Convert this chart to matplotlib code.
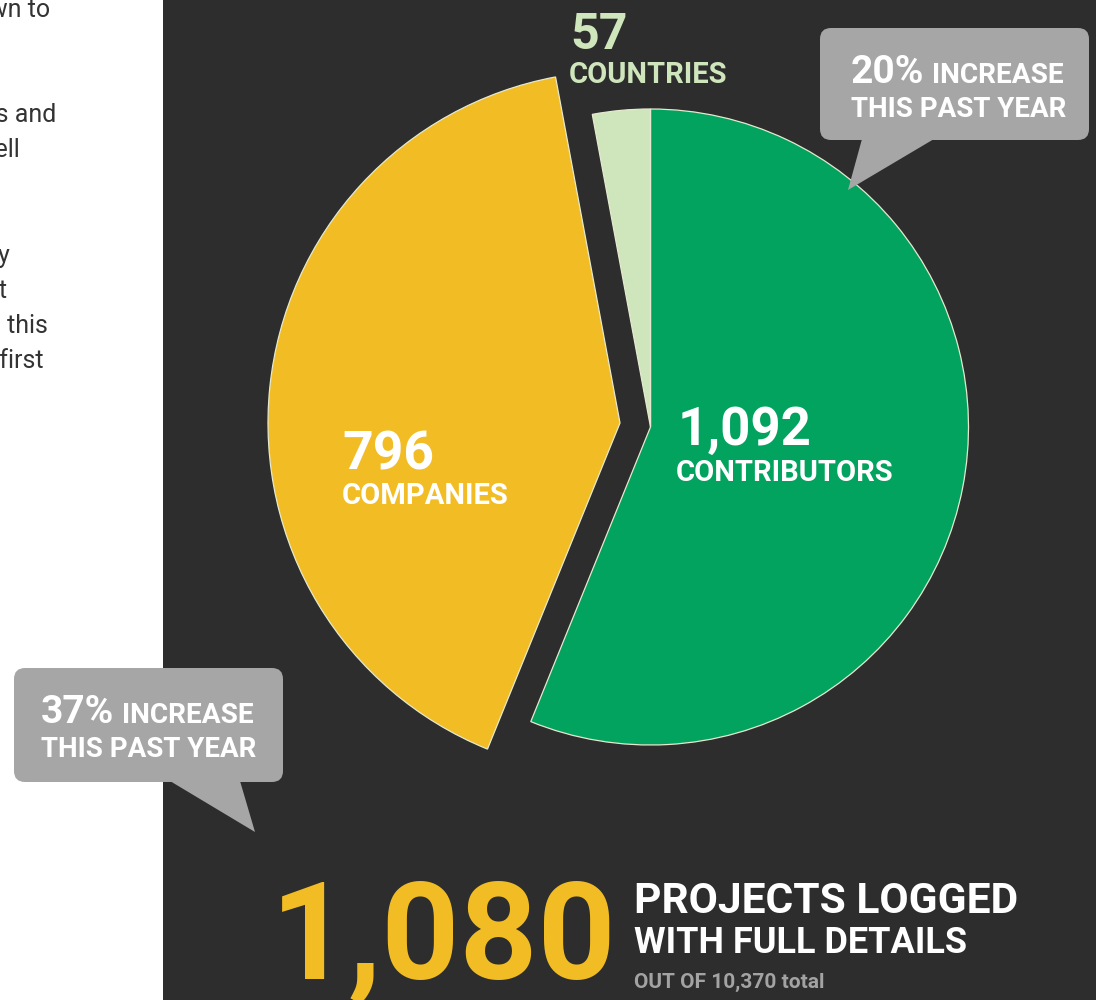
import matplotlib
matplotlib.use("Agg")
import matplotlib.pyplot as plt
from matplotlib.patches import FancyBboxPatch, Polygon, Rectangle

# --- data ---
slice_labels = ["CONTRIBUTORS", "COMPANIES", "COUNTRIES"]
slice_values = [1092, 796, 57]
slice_colors = ["#02a35e", "#f2bd24", "#cfe6bc"]
increase_pct = [20, 37]          # contributors, companies
projects_logged = 1080
projects_total = 10370

# cut-off body text on the white strip at the left
side_text = ["shown to", "tools and", "as well", "ly", "st", "in this", "the first"]
side_text_right = [50, 56, 20, 10, 8, 48, 44]
side_text_base = [17, 122, 157, 263, 298, 333, 368]

W, H = 1096, 1000
DARK = "#2c2d2c"
CALLOUT = "#a6a6a6"

plt.rcParams["font.family"] = ["Roboto", "DejaVu Sans"]

fig = plt.figure(figsize=(W / 100, H / 100), dpi=100)
fig.patch.set_facecolor("white")
ax = fig.add_axes([0, 0, 1, 1])


def Y(y):
    # image row -> data y
    return H - y


# left text strip (cut by the image edge)
for t, xr, base in zip(side_text, side_text_right, side_text_base):
    ax.text(xr, Y(base), t, ha="right", va="baseline", fontsize=18,
            fontweight="normal", color="#333333", zorder=1)

ax.add_patch(Rectangle((163, 0), W - 163, H, facecolor=DARK, edgecolor="none", zorder=2))

# pie
wedges, _ = ax.pie(slice_values, colors=slice_colors, startangle=90, counterclock=False,
                   radius=318, center=(650.5, Y(427)), frame=True,
                   wedgeprops=dict(edgecolor="#e6e9cf", linewidth=0.9, zorder=3))
# companies slice pulled out and drawn larger
wedges[1].set_radius(352)
wedges[1].set_center((620, Y(423)))
ax.set_xlim(0, W)
ax.set_ylim(0, H)
ax.set_aspect("equal")
ax.axis("off")

# slice labels
lab = dict(fontweight="bold", va="baseline", zorder=5)
ax.text(678, Y(445), f"{slice_values[0]:,}", fontsize=38, color="white", **lab)
ax.text(676, Y(481), slice_labels[0], fontsize=21, color="white", **lab)
ax.text(342, Y(470), f"{slice_values[1]:,}", fontsize=38.5, color="white", **lab)
ax.text(342, Y(504), slice_labels[1], fontsize=21, color="white", **lab)
ax.text(570, Y(49), f"{slice_values[2]:,}", fontsize=36, color=slice_colors[2], **lab)
ax.text(569, Y(83), slice_labels[2], fontsize=21, color=slice_colors[2], **lab)


def callout(x0, y0, x1, y1, tail, pct, tx):
    ax.add_patch(FancyBboxPatch((x0, Y(y1)), x1 - x0, y1 - y0,
                                boxstyle="round,pad=0,rounding_size=11",
                                facecolor=CALLOUT, edgecolor="none", zorder=6))
    ax.add_patch(Polygon([(px, Y(py)) for px, py in tail], closed=True,
                         facecolor=CALLOUT, edgecolor="none", zorder=6))
    kw = dict(fontweight="bold", color="white", va="baseline", zorder=7)
    ax.text(tx, Y(y0 + 55), f"{pct}%", fontsize=28, **kw)
    ax.text(tx + 81, Y(y0 + 55), "INCREASE", fontsize=20.2, **kw)
    ax.text(tx, Y(y0 + 89), "THIS PAST YEAR", fontsize=20, **kw)


callout(820, 28, 1089, 140, [(862, 139), (934, 139), (848, 190)], increase_pct[0], 851)
callout(14, 668, 283, 782, [(170, 781), (240, 781), (255, 832)], increase_pct[1], 41)

# projects headline
ax.text(271, Y(978), f"{projects_logged:,}", fontsize=98, fontweight="bold",
        color=slice_colors[1], va="baseline", zorder=5)
ax.text(634, Y(913), "PROJECTS LOGGED", fontsize=30.6, fontweight="bold",
        color="white", va="baseline", zorder=5)
ax.text(634, Y(953), "WITH FULL DETAILS", fontsize=26, fontweight="bold",
        color="white", va="baseline", zorder=5)
ax.text(634, Y(988), f"OUT OF {projects_total:,} total", fontsize=15, fontweight="bold",
        color="#a3a3a3", va="baseline", zorder=5)

fig.savefig("out.png", dpi=100, facecolor=fig.get_facecolor())
